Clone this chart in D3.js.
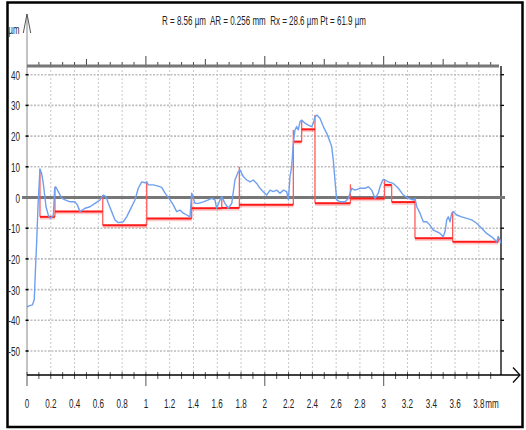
<!DOCTYPE html>
<html><head><meta charset="utf-8">
<script src="https://cdn.jsdelivr.net/npm/d3@7"></script>
<style>
html,body{margin:0;padding:0;background:#fff;}
svg text{font-family:"Liberation Sans",Arial,sans-serif;fill:#222;white-space:pre;}
</style></head>
<body>
<svg id="c" width="526" height="430"></svg>
<script>
// ---- data ----
const titleText = "R = 8.56 µm  AR = 0.256 mm  Rx = 28.6 µm Pt = 61.9 µm";
const yUnit = "µm";
const xUnit = "mm";
const yTicks = [40, 30, 20, 10, 0, -10, -20, -30, -40, -50];
const xTickLabels = [0,0.2,0.4,0.6,0.8,1,1.2,1.4,1.6,1.8,2,2.2,2.4,2.6,2.8,3,3.2,3.4,3.6,3.8];

// profile (mm, µm)
const profX = [0.0,0.017,0.045,0.061,0.071,0.082,0.093,0.109,0.122,0.137,0.160,0.179,0.193,0.206,0.221,0.233,0.241,0.263,0.292,0.320,0.362,0.404,0.423,0.446,0.488,0.530,0.572,0.614,0.642,0.664,0.684,0.712,0.740,0.768,0.810,0.838,0.866,0.908,0.936,0.965,0.992,1.007,1.020,1.062,1.104,1.133,1.161,1.203,1.230,1.259,1.287,1.315,1.343,1.371,1.385,1.413,1.441,1.483,1.525,1.553,1.581,1.595,1.623,1.638,1.665,1.693,1.722,1.749,1.777,1.791,1.819,1.848,1.876,1.903,1.932,1.960,1.987,2.016,2.044,2.071,2.100,2.128,2.156,2.184,2.198,2.212,2.226,2.240,2.254,2.268,2.282,2.296,2.310,2.338,2.366,2.394,2.408,2.422,2.437,2.464,2.492,2.521,2.548,2.563,2.576,2.590,2.605,2.632,2.675,2.702,2.717,2.731,2.759,2.801,2.843,2.871,2.899,2.927,2.955,2.969,2.992,3.011,3.039,3.081,3.123,3.165,3.207,3.249,3.263,3.278,3.305,3.333,3.362,3.389,3.417,3.446,3.474,3.501,3.516,3.530,3.543,3.558,3.572,3.585,3.614,3.656,3.698,3.740,3.782,3.824,3.866,3.908,3.936,3.950,3.964,3.978,3.984];
const profY = [-35.7,-35.3,-35.0,-33.4,-23.6,-13.8,-2.4,9.3,8.0,4.6,-3.0,-5.7,-6.8,-6.4,-6.0,3.0,3.5,1.9,-0.2,-0.8,-1.4,-1.4,-2.4,-4.6,-3.5,-3.0,-1.9,-0.8,0.8,0.3,-1.9,-4.6,-7.3,-8.2,-7.9,-6.3,-4.1,-0.8,3.0,5.1,4.8,5.1,4.1,4.1,3.7,3.3,1.4,-0.8,-2.4,-4.6,-4.1,-5.1,-5.7,-6.3,1.4,-1.9,-1.9,-1.4,-0.8,-0.3,-0.8,-3.5,-0.8,0.3,-1.9,-3.5,-1.9,5.7,8.4,9.0,6.8,5.7,5.1,5.7,4.6,3.0,1.9,0.8,2.4,1.9,2.4,1.4,2.4,1.9,-0.8,6.8,10.0,17.7,22.0,23.1,22.0,24.7,25.2,24.2,23.6,23.1,24.2,26.3,26.9,25.8,23.1,20.9,18.2,16.5,12.2,5.7,-0.8,-1.4,-1.4,-0.3,1.4,3.0,2.4,3.0,3.0,3.5,2.4,-0.3,1.4,3.5,5.7,5.7,5.1,4.6,3.0,0.8,-0.3,-0.8,-0.3,-3.0,-5.1,-7.9,-7.9,-9.0,-10.6,-11.1,-11.7,-12.8,-11.1,-7.3,-6.3,-7.9,-5.1,-4.6,-5.7,-6.3,-6.8,-7.3,-8.4,-10.0,-11.7,-12.8,-13.8,-14.4,-12.8,-13.8,-14.9];

// motifs: boundary position (mm), peak at boundary (µm), level after boundary (µm)
const motifX     = [0.109, 0.235, 0.637, 1.007, 1.385, 1.638, 1.786, 2.240, 2.310, 2.422, 2.720, 3.007, 3.067, 3.263, 3.580, 3.964];
const motifPeak  = [9.3,   3.5,   0.8,   5.1,   1.4,  -0.3,   10.0,  22.0,  25.2,  26.9,  4.3,   6.0,   4.1,  -0.5,  -4.6,  -12.5];
const motifLevel = [-6.3, -4.6,  -9.0,  -6.8,  -3.5,  -3.4,  -2.4,  18.2,  22.2,  -1.9,  -0.3,  4.1,  -1.5, -13.3, -14.4, null];

// ---- drawing ----
const svg = d3.select("#c");
const x = d3.scaleLinear().domain([0, 4]).range([27, 502.6]);
const y = d3.scaleLinear().domain([-10, 40]).range([228.2, 74.7]);
const yTop = 66, yBot = 375;

// condensed text helper
function ntext(parent, px, py, str, anchor, size, sx, color) {
  return parent.append("text")
    .attr("transform", `translate(${px},${py}) scale(${sx},1)`)
    .attr("text-anchor", anchor).attr("font-size", size)
    .attr("xml:space", "preserve")
    .attr("fill", color || "#222").text(str);
}

// outer frame
svg.append("rect").attr("x",7.5).attr("y",2.5).attr("width",515).attr("height",424.5)
  .attr("fill","none").attr("stroke","#000").attr("stroke-width",2.5);

// title
ntext(svg, 264, 25, titleText, "middle", 12.5, 0.64, "#222");
ntext(svg, 8.5, 34, yUnit, "start", 12.5, 0.62, "#222");

// grid
const vGrid = d3.range(1, 20).map(i => i*0.2);
svg.append("g").selectAll("line").data(vGrid).join("line")
  .attr("x1",d=>x(d)).attr("x2",d=>x(d)).attr("y1",yTop).attr("y2",yBot)
  .attr("stroke","#c8c8c8").attr("stroke-width",1).attr("stroke-dasharray","2,2");
svg.append("g").selectAll("line").data(yTicks.filter(d=>d!==0)).join("line")
  .attr("x1",27).attr("x2",501).attr("y1",d=>y(d)).attr("y2",d=>y(d))
  .attr("stroke","#bdbdbd").attr("stroke-width",1.6).attr("stroke-dasharray","2,1.5");

// y axis line with arrow
svg.append("line").attr("x1",27).attr("x2",27).attr("y1",14).attr("y2",yBot)
  .attr("stroke","#888").attr("stroke-width",1);
svg.append("path").attr("d","M23.3,33 L27,14 L30.7,33").attr("fill","none").attr("stroke","#555").attr("stroke-width",1);

// y ticks & labels
svg.append("g").selectAll("line").data(yTicks).join("line")
  .attr("x1",25.5).attr("x2",28.5).attr("y1",d=>y(d)).attr("y2",d=>y(d))
  .attr("stroke","#000").attr("stroke-width",1.5);
const gyl = svg.append("g");
yTicks.forEach(v => ntext(gyl, 20, y(v)+5, String(v), "end", 13.5, 0.6, "#333"));

// right frame line with ticks
svg.append("line").attr("x1",501).attr("x2",501).attr("y1",yTop).attr("y2",yBot).attr("stroke","#000").attr("stroke-width",1.3);
svg.append("g").selectAll("line").data(yTicks).join("line")
  .attr("x1",501).attr("x2",504).attr("y1",d=>y(d)).attr("y2",d=>y(d)).attr("stroke","#000").attr("stroke-width",1.3);

// top axis: thick gray line with ticks upward
const topTicks = d3.range(0, 40).map(i => i/10).filter(d => d>0);
svg.append("g").selectAll("line").data(topTicks).join("line")
  .attr("x1",d=>x(d)).attr("x2",d=>x(d)).attr("y1",yTop)
  .attr("y2",d=>{const k=Math.round(d*10); return k%10===0?56:(k%5===0?59:62);})
  .attr("stroke","#444").attr("stroke-width",1);
svg.append("line").attr("x1",27).attr("x2",499).attr("y1",yTop).attr("y2",yTop)
  .attr("stroke","#777").attr("stroke-width",3);

// zero line
svg.append("line").attr("x1",22).attr("x2",505).attr("y1",y(0)).attr("y2",y(0))
  .attr("stroke","#777").attr("stroke-width",3);

// bottom axis
const botTicks = d3.range(0, 40).map(i => i/10);
svg.append("g").selectAll("line").data(botTicks).join("line")
  .attr("x1",d=>x(d)).attr("x2",d=>x(d))
  .attr("y1",372).attr("y2",d=>Math.round(d*10)%10===0?386:379)
  .attr("stroke","#555").attr("stroke-width",1);
svg.append("line").attr("x1",27).attr("x2",519).attr("y1",yBot).attr("y2",yBot)
  .attr("stroke","#000").attr("stroke-width",1.5);
svg.append("path").attr("d","M513,367.5 L520,375 L513,382.5").attr("fill","none").attr("stroke","#000").attr("stroke-width",1.2);
const gxl = svg.append("g");
xTickLabels.forEach(v => ntext(gxl, x(v), 408, String(v), "middle", 13.5, 0.6, "#333"));
ntext(gxl, x(3.8)+6.5, 408, xUnit, "start", 13.5, 0.6, "#333");

// red motif steps
let hSeg = [], vSeg = [];
for (let i=0;i<motifX.length;i++){
  const prev = i>0 ? motifLevel[i-1] : motifPeak[i];
  const next = motifLevel[i] === null ? motifPeak[i] : motifLevel[i];
  vSeg.push([motifX[i], Math.min(prev,next,motifPeak[i]), Math.max(prev,next,motifPeak[i])]);
  if (motifLevel[i] !== null) hSeg.push([motifX[i], motifX[i+1], motifLevel[i]]);
}
const gm = svg.append("g");
gm.selectAll("line.h2").data(hSeg).join("line").attr("class","h2")
  .attr("x1",d=>x(d[0])).attr("x2",d=>x(d[1])).attr("y1",d=>y(d[2])+1).attr("y2",d=>y(d[2])+1)
  .attr("stroke","rgba(255,80,80,0.3)").attr("stroke-width",3.5);
gm.selectAll("line.v").data(vSeg).join("line").attr("class","v")
  .attr("x1",d=>x(d[0])).attr("x2",d=>x(d[0])).attr("y1",d=>y(d[1])).attr("y2",d=>y(d[2]))
  .attr("stroke","#ff5a5a").attr("stroke-width",1.3);
gm.selectAll("line.h").data(hSeg).join("line").attr("class","h")
  .attr("x1",d=>x(d[0])).attr("x2",d=>x(d[1])).attr("y1",d=>y(d[2])).attr("y2",d=>y(d[2]))
  .attr("stroke","#ff1a1a").attr("stroke-width",2);

// blue profile
const line = d3.line().x(d=>x(d[0])).y(d=>y(d[1]));
svg.append("path").datum(profX.map((v,i)=>[v,profY[i]]))
  .attr("d",line).attr("fill","none").attr("stroke","#6fa0ef").attr("stroke-width",1.4)
  .attr("stroke-linejoin","round");
</script>
</body></html>
